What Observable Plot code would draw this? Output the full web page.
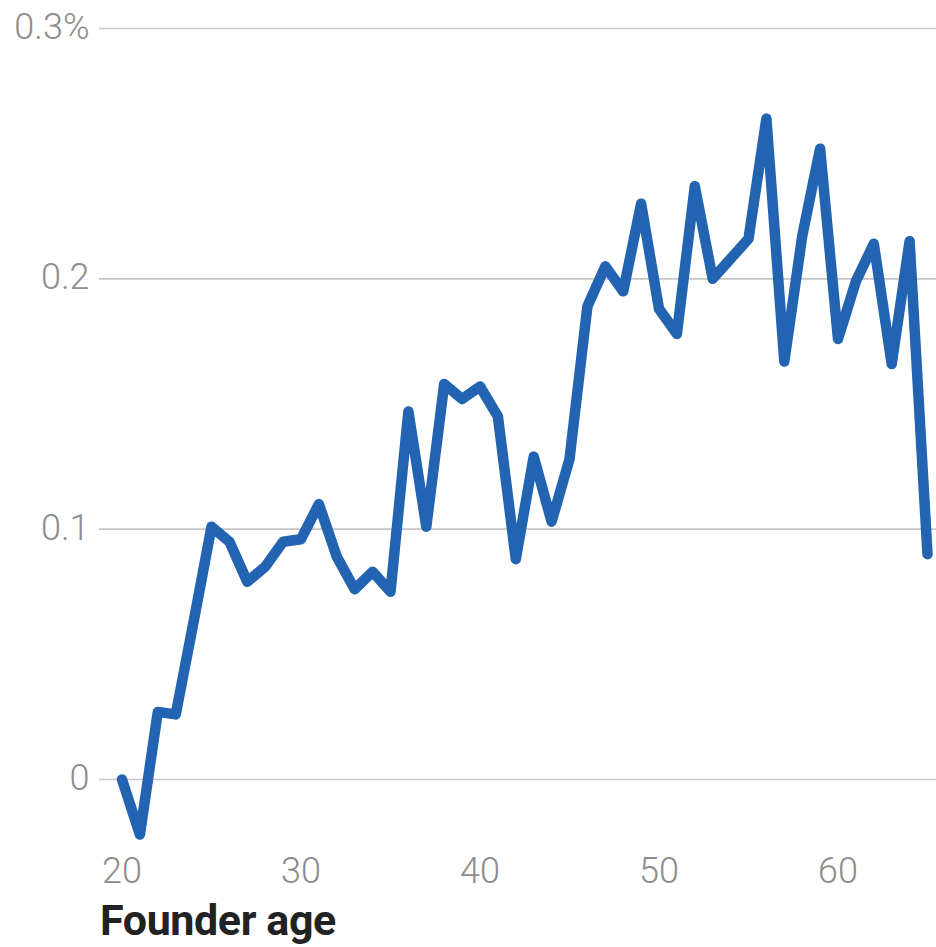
<!DOCTYPE html>
<html>
<head>
<meta charset="utf-8">
<script src="https://cdn.jsdelivr.net/npm/d3@7"></script>
<script src="https://cdn.jsdelivr.net/npm/@observablehq/plot@0.6"></script>
<style>
  html, body { margin: 0; padding: 0; background: #fff; overflow: hidden; }
  #chart svg text { font-family: Roboto, "Noto Sans", sans-serif; font-weight: 300; }
  #xlabel {
    font-family: Roboto, "Noto Sans", sans-serif;
    font-weight: 700;
    font-size: 43px;
    line-height: 41px;
    height: 47px;
    color: #222;
    padding-left: 100px;
    letter-spacing: -0.4px;
    white-space: nowrap;
  }
</style>
</head>
<body>
<div id="chart"></div>
<div id="xlabel">Founder age</div>
<script>
// Founder age (years)
const ages = [20, 21, 22, 23, 24, 25, 26, 27, 28, 29,
              30, 31, 32, 33, 34, 35, 36, 37, 38, 39,
              40, 41, 42, 43, 44, 45, 46, 47, 48, 49,
              50, 51, 52, 53, 54, 55, 56, 57, 58, 59,
              60, 61, 62, 63, 64, 65];
// Value in percent
const values = [0.000, -0.022, 0.027, 0.026, 0.063, 0.101, 0.095, 0.079, 0.085, 0.095,
                0.096, 0.110, 0.089, 0.076, 0.083, 0.075, 0.147, 0.101, 0.158, 0.152,
                0.157, 0.145, 0.088, 0.129, 0.103, 0.128, 0.189, 0.205, 0.195, 0.230,
                0.188, 0.178, 0.237, 0.200, 0.208, 0.216, 0.264, 0.167, 0.217, 0.252,
                0.176, 0.199, 0.214, 0.166, 0.215, 0.090];
const xTickValues = [20, 30, 40, 50, 60];
const yTickValues = [0, 0.1, 0.2, 0.3];
const yTickLabels = ["0", "0.1", "0.2", "0.3%"];
const xTitle = "Founder age";

const data = ages.map((a, i) => ({age: a, value: values[i]}));

const chart = Plot.plot({
  width: 936,
  height: 900,
  marginLeft: 99,
  marginRight: 0,
  marginTop: 28,
  marginBottom: 45,
  x: {domain: [20, 65], range: [121.5, 927]},
  y: {domain: [0, 0.3], range: [779, 28]},
  marks: [
    Plot.gridY(yTickValues, {stroke: "#c6c6c6", strokeOpacity: 1, strokeWidth: 1.6}),
    Plot.axisY(yTickValues, {
      tickSize: 0, tickPadding: 10, fontSize: 36, fill: "#8c8c8c", label: null,
      dy: -1,
      tickFormat: d => yTickLabels[yTickValues.indexOf(d)]
    }),
    Plot.axisX(xTickValues, {
      tickSize: 0, tickPadding: 2, fontSize: 36, fill: "#8c8c8c", label: null,
      tickFormat: d => String(d)
    }),
    Plot.line(data, {
      x: "age", y: "value", stroke: "#2264b2", strokeWidth: 10.5,
      strokeLinejoin: "round", strokeLinecap: "round"
    })
  ]
});
document.getElementById("chart").appendChild(chart);
document.getElementById("xlabel").textContent = xTitle;
</script>
</body>
</html>
